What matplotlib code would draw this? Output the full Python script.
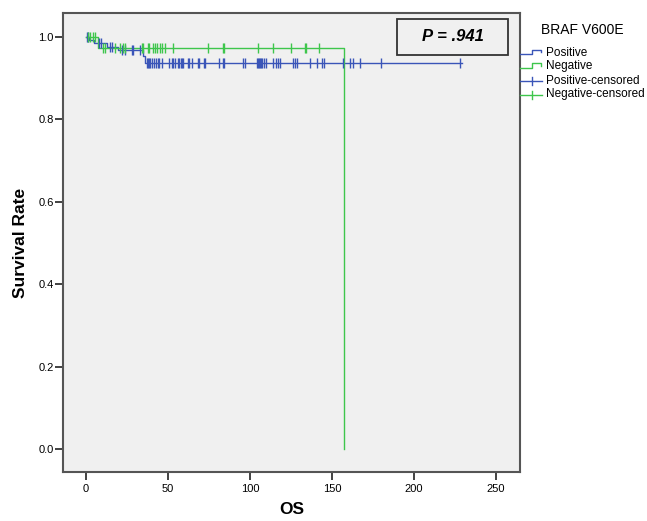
import numpy as np
import matplotlib.pyplot as plt
from matplotlib.lines import Line2D
from matplotlib.patches import Rectangle

plt.rcParams['font.family'] = ['Liberation Sans', 'DejaVu Sans']

# Kaplan-Meier steps (time, survival) per group
pos_times = [0, 1.8, 5.1, 12.6, 19.7, 34.5, 36.0]
pos_surv = [1.0, 0.992, 0.984, 0.976, 0.968, 0.952, 0.936]
pos_end = 229.5

neg_times = [0, 7.5, 157.3]
neg_surv = [1.0, 0.972, 0.0]

pos_cens = [0.6, 1.2, 8.1, 9.1, 14.6, 15.6, 21.7, 23.8, 27.9, 28.9, 33, 37, 37.7,
            38.4, 39, 40, 41.4, 42.5, 44.1, 44.7, 46.2, 50.8, 52.3, 53.3, 54.3, 56.3,
            56.9, 57.8, 58.4, 59.4, 62, 62.9, 64.5, 68.5, 69.2, 71.7, 72.3, 81.3,
            83.7, 84.3, 95.9, 96.9, 104.2, 104.7, 105.6, 106.2, 106.8, 107.6, 108.7,
            109.6, 114.3, 115.7, 117.3, 118.3, 126.5, 127.5, 128.5, 136.6, 140.7,
            144.1, 145.1, 156.9, 161.1, 163, 167.2, 179.8, 228]
neg_cens = [1.0, 2.4, 4.5, 5.5, 10.6, 11.6, 17.7, 20.7, 22.7, 23.8, 34, 34.6, 38,
            38.6, 41, 42, 43.1, 45.2, 46.2, 48.1, 53.3, 74.6, 83.4, 84.2, 104.7,
            114.3, 125, 133.6, 134.4, 142.3]

blue = '#3a55b8'
green = '#3ec64c'


def surv_at(times, surv, t):
    idx = np.searchsorted(times, t, side='right') - 1
    return np.array(surv)[idx]


fig = plt.figure(figsize=(6.47, 5.21), dpi=100)
ax = fig.add_axes([0.0978, 0.0935, 0.706, 0.882])
ax.set_facecolor('#f0f0f0')

ax.step(pos_times + [pos_end], pos_surv + [pos_surv[-1]], where='post', color=blue, lw=1)
ax.step(neg_times, neg_surv, where='post', color=green, lw=1)
ax.plot(pos_cens, surv_at(pos_times, pos_surv, pos_cens), ls='none', marker='|',
        ms=7, mew=1, color=blue)
ax.plot(neg_cens, surv_at(neg_times, neg_surv, neg_cens), ls='none', marker='|',
        ms=7, mew=1, color=green)

ax.set_xlim(-13.8, 264.6)
ax.set_ylim(-0.056, 1.058)
ax.set_xticks(np.arange(0, 251, 50))
ax.set_yticks(np.arange(0, 1.01, 0.2))
ax.set_yticklabels([f'{v:.1f}' for v in np.arange(0, 1.01, 0.2)])
ax.tick_params(labelsize=8, length=5.5, width=1.3, color='#333333', pad=3)
ax.tick_params(axis='y', pad=1.5)
for s in ax.spines.values():
    s.set_color('#555555')
    s.set_linewidth(1.5)

ax.set_xlabel('OS', fontsize=12.5, fontweight='bold', labelpad=6)
ax.set_ylabel('Survival Rate', fontsize=12.5, fontweight='bold', labelpad=7)

# p-value box
ax.add_patch(Rectangle((189.6, 0.956), 67.7, 0.087, fc='none', ec='#333333', lw=1.3))
ax.text(223.4, 0.9995, 'P = .941', ha='center', va='center',
        fontsize=12, fontweight='bold', style='italic')

# legend drawn outside the axes
W, H = 647, 521
fig.text(541 / W, 1 - 30 / H, 'BRAF V600E', fontsize=10, ha='left', va='center')
labels = ['Positive', 'Negative', 'Positive-censored', 'Negative-censored']
cols = [blue, green, blue, green]
rows = [52.5, 66.5, 80.5, 94.5]
for i, (lab, c, y) in enumerate(zip(labels, cols, rows)):
    if i < 2:
        xs = np.array([520, 531.5, 531.5, 540.5, 540.5]) / W
        ys = 1 - np.array([y + 1.5, y + 1.5, y - 3, y - 3, y - 0.5]) / H
        fig.add_artist(Line2D(xs, ys, color=c, lw=1))
    else:
        fig.add_artist(Line2D(np.array([520, 542]) / W, [1 - y / H] * 2, color=c, lw=1))
        fig.add_artist(Line2D([531.5 / W] * 2, 1 - np.array([y - 4, y + 4]) / H, color=c, lw=1))
    fig.text(546 / W, 1 - y / H, lab, fontsize=8.5, ha='left', va='center')

fig.savefig('out.png', dpi=100)
